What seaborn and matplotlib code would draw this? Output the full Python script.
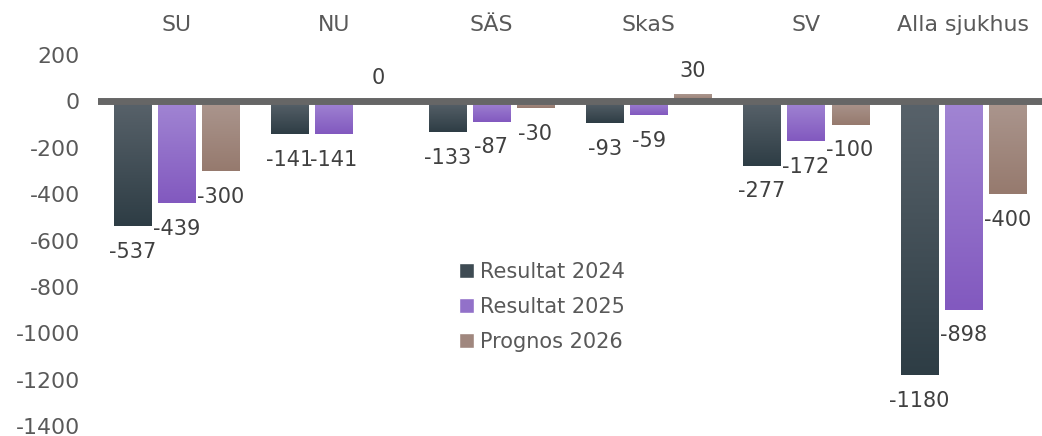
import numpy as np
import pandas as pd
import seaborn as sns
import matplotlib.pyplot as plt
from matplotlib.colors import LinearSegmentedColormap
from matplotlib.patches import Patch

categories = ["SU", "NU", "SÄS", "SkaS", "SV", "Alla sjukhus"]
series = ["Resultat 2024", "Resultat 2025", "Prognos 2026"]
resultat_2024 = [-537, -141, -133, -93, -277, -1180]
resultat_2025 = [-439, -141, -87, -59, -172, -898]
prognos_2026 = [-300, 0, -30, 30, -100, -400]
y_ticks = [200, 0, -200, -400, -600, -800, -1000, -1200, -1400]

# gradient top -> bottom for each series
grad = {
    "Resultat 2024": ("#58626a", "#2e3d45"),
    "Resultat 2025": ("#a185d3", "#8259bf"),
    "Prognos 2026": ("#ab968e", "#967a6e"),
}
mid = {"Resultat 2024": "#3e4b53", "Resultat 2025": "#9271c9", "Prognos 2026": "#a0877e"}

df = pd.DataFrame({
    "sjukhus": categories * 3,
    "serie": [s for s in series for _ in categories],
    "varde": resultat_2024 + resultat_2025 + prognos_2026,
})

sns.set_style("white")
plt.rcParams['font.family'] = ['DejaVu Sans']

fig = plt.figure(figsize=(10.42, 4.36), dpi=100)
ax = fig.add_axes([98 / 1042, 1 - 426 / 436, 1 - 98 / 1042, (426 - 55) / 436])

sns.barplot(data=df, x="sjukhus", y="varde", hue="serie", order=categories,
            hue_order=series, palette=mid, width=0.84, gap=0.16,
            legend=False, ax=ax, errorbar=None)

txt = "#404040"
for patch, (serie, val) in zip(ax.patches, zip(df["serie"], df["varde"])):
    x0, w = patch.get_x(), patch.get_width()
    top, bot = max(val, 0), min(val, 0)
    if val == 0:
        continue
    cmap = LinearSegmentedColormap.from_list(serie, [grad[serie][0], grad[serie][1]])
    g = np.linspace(0, 1, 100).reshape(-1, 1)
    ax.imshow(g, cmap=cmap, extent=[x0, x0 + w, bot, top], aspect="auto",
              origin="upper", zorder=patch.get_zorder() + 0.1)
    patch.set_visible(False)

# value labels
for patch, val in zip(ax.patches, df["varde"]):
    xc = patch.get_x() + patch.get_width() / 2
    if val < 0:
        ax.annotate(f"{val}", (xc, val), xytext=(0, -18.5), textcoords="offset points",
                    ha="center", va="center", fontsize=15, color=txt, zorder=5)
    else:
        ax.annotate(f"{val}", (xc, val), xytext=(0, 17), textcoords="offset points",
                    ha="center", va="center", fontsize=15, color=txt, zorder=5)

ax.axhline(0, color="#666666", lw=5, zorder=4)

ax.set_xlim(-0.5, 5.5)
ax.set_ylim(-1400, 200)
ax.set_yticks(y_ticks)
ax.set_yticklabels([str(t) for t in y_ticks])
ax.tick_params(axis="y", length=0, pad=13, labelsize=15.8, labelcolor="#595959")
ax.set_xticks([])
ax.set_xlabel("")
ax.set_ylabel("")
for s in ax.spines.values():
    s.set_visible(False)

for i, name in enumerate(categories):
    ax.text(i, 1.081, name, transform=ax.get_xaxis_transform(), ha="center",
            va="center", fontsize=15.8, color="#595959")

handles = [Patch(facecolor=mid[s], label=s) for s in series]
fig.legend(handles=handles, loc="center", bbox_to_anchor=(542 / 1042, 1 - 307 / 436),
           frameon=False, fontsize=15, labelcolor="#595959", handlelength=0.7,
           handleheight=0.7, handletextpad=0.3, labelspacing=0.72)

fig.savefig("out.png", dpi=100)
